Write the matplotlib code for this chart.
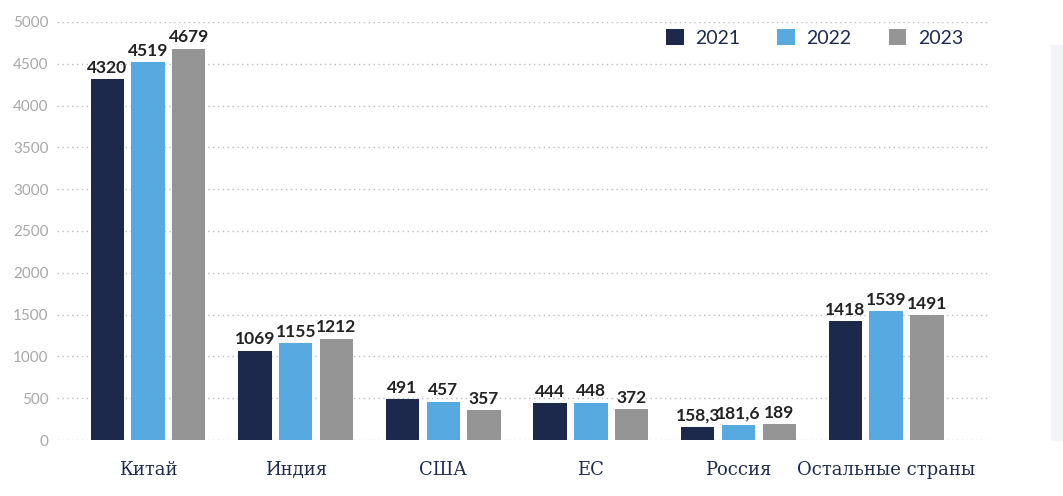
import numpy as np
import matplotlib.pyplot as plt
from matplotlib.patches import Rectangle

# data
countries = ['Китай', 'Индия', 'США', 'ЕС', 'Россия', 'Остальные страны']
years = ['2021', '2022', '2023']
v2021 = [4320, 1069, 491, 444, 158.3, 1418]
v2022 = [4519, 1155, 457, 448, 181.6, 1539]
v2023 = [4679, 1212, 357, 372, 189, 1491]
lbl2021 = ['4320', '1069', '491', '444', '158,3', '1418']
lbl2022 = ['4519', '1155', '457', '448', '181,6', '1539']
lbl2023 = ['4679', '1212', '357', '372', '189', '1491']

colors = ['#1c294d', '#56aae0', '#959595']
navy = '#1f2b4d'

fig = plt.figure(figsize=(10.63, 4.96), dpi=100)
ax = fig.add_axes([57 / 1063, 56 / 496, 931 / 1063, 418 / 496])

# light side panel on the right edge
fig.patches.append(Rectangle((1051 / 1063, 56 / 496), 12 / 1063, 395 / 496,
                             transform=fig.transFigure, color='#f3f4f8', zorder=0))

x = np.arange(len(countries))
width = 0.226
step = 0.276
series = [(v2021, lbl2021), (v2022, lbl2022), (v2023, lbl2023)]

for i, (vals, lbls) in enumerate(series):
    pos = x + (i - 1) * step
    ax.bar(pos, vals, width, color=colors[i], label=years[i], zorder=3)
    for px, v, t in zip(pos, vals, lbls):
        ax.text(px, v + 40, t, ha='center', va='bottom', fontsize=12.5,
                fontweight='bold', family='Lato', color='#222222', zorder=4)

ax.set_xlim(-0.617, 5.69)
ax.set_ylim(0, 5000)
ax.set_yticks(np.arange(0, 5001, 500))
ax.set_yticklabels([str(t) for t in range(0, 5001, 500)], family='Lato',
                   fontsize=11, color='#a8a8a8')
ax.set_xticks(x)
ax.set_xticklabels(countries, family='DejaVu Serif', fontsize=13, color=navy)
ax.tick_params(axis='both', length=0)
ax.tick_params(axis='x', pad=15)
ax.tick_params(axis='y', pad=6)
ax.grid(axis='y', linestyle=(0, (1, 2.5)), color='#bdbdbd', linewidth=1, zorder=0)
for s in ax.spines.values():
    s.set_visible(False)

ax.legend(loc='upper right', bbox_to_anchor=(0.992, 1.025), ncol=3, frameon=False,
          prop={'family': 'Lato', 'size': 14}, labelcolor=navy,
          handlelength=0.9, handleheight=0.9, columnspacing=1.9, handletextpad=0.6)

fig.savefig('out.png', dpi=100)
